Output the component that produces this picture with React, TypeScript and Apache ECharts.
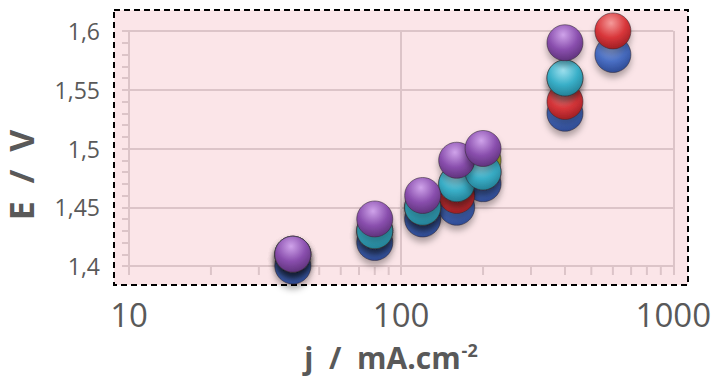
import React, { useEffect, useRef } from "react";
import * as echarts from "echarts";

// ---- data ----
const xValues = [40, 80, 120, 160, 200, 400, 600];
const blueValues = [1.40, 1.42, 1.44, 1.45, 1.47, 1.53, 1.58];
const redValues = [1.41, 1.43, 1.45, 1.46, 1.48, 1.54, 1.60];
const greenValues = [1.41, 1.43, 1.45, 1.47, 1.49, 1.56, null];
const cyanValues = [1.41, 1.43, 1.45, 1.47, 1.48, 1.56, null];
const purpleValues = [1.41, 1.44, 1.46, 1.49, 1.50, 1.59, null];

const xMinorTicks = [20, 30, 40, 50, 60, 70, 80, 90, 200, 300, 400, 500, 600, 700, 800, 900];
const yTickMin = 1.4;
const yTickMax = 1.6;
const yTickStep = 0.05;

const seriesDefs = [
  { name: "S1", values: blueValues, light: "#9db4ee", base: "#4a6fc4", dark: "#2b4790" },
  { name: "S2", values: redValues, light: "#f59a9a", base: "#d8363a", dark: "#9a1d22" },
  { name: "S3", values: greenValues, light: "#e6ee8a", base: "#b7c234", dark: "#7d8620" },
  { name: "S4", values: cyanValues, light: "#a0e2f0", base: "#39afc8", dark: "#237d92" },
  { name: "S5", values: purpleValues, light: "#cfa3ea", base: "#8a4fae", dark: "#5c3078" },
];

const GRID_COLOR = "#dcc4c8";
const TEXT_COLOR = "#595959";
const FONT = "'Open Sans', 'Liberation Sans', sans-serif";

export default function App() {
  const ref = useRef<HTMLDivElement>(null);

  useEffect(() => {
    if (!ref.current) return;
    const chart = echarts.init(ref.current, null, { renderer: "svg" });

    const scatterSeries = seriesDefs.map((s, si) => ({
      type: "scatter",
      name: s.name,
      z: 3 + si,
      symbolSize: 36,
      data: xValues
        .map((x, i) => (s.values[i] == null ? null : [x, s.values[i]]))
        .filter((d) => d !== null),
      itemStyle: {
        color: new echarts.graphic.RadialGradient(0.45, 0.28, 0.75, [
          { offset: 0, color: s.light },
          { offset: 0.55, color: s.base },
          { offset: 1, color: s.dark },
        ]),
        borderColor: "rgba(50,40,50,0.55)",
        borderWidth: 1,
        shadowBlur: 6,
        shadowOffsetY: 5,
        shadowColor: "rgba(0,0,0,0.3)",
        opacity: 1,
      },
      emphasis: { disabled: true },
    }));

    const option: any = {
      animation: false,
      backgroundColor: "#ffffff",
      grid: { left: 129, right: 40, top: 31, bottom: 117 },
      graphic: [
        {
          type: "rect",
          z: -10,
          silent: true,
          shape: { x: 114, y: 10, width: 574, height: 275 },
          style: { fill: "#fbe5e8", stroke: "#000", lineWidth: 2, lineDash: [6, 4] },
        },
        {
          type: "text",
          x: 21,
          y: 175,
          rotation: Math.PI / 2,
          style: {
            text: "E  /  V",
            font: `bold 34px ${FONT}`,
            fill: TEXT_COLOR,
            align: "center",
            verticalAlign: "middle",
          },
        },
        {
          type: "text",
          x: 391,
          y: 357,
          style: {
            text: "{a|j  /  mA.cm}{b|-2}",
            align: "center",
            verticalAlign: "middle",
            rich: {
              a: { fontSize: 30, fontWeight: "bold", fontFamily: FONT, fill: TEXT_COLOR, color: TEXT_COLOR },
              b: {
                fontSize: 18,
                fontWeight: "bold",
                fontFamily: FONT,
                fill: TEXT_COLOR,
                color: TEXT_COLOR,
                padding: [0, 0, 15, 1],
              },
            },
          },
        },
      ],
      xAxis: {
        type: "log",
        logBase: 10,
        min: 10,
        max: 1000,
        axisLine: { show: true, lineStyle: { color: GRID_COLOR, width: 2 } },
        axisTick: { show: true, length: 9, lineStyle: { color: GRID_COLOR, width: 2 } },
        splitLine: { show: true, lineStyle: { color: GRID_COLOR, width: 2 } },
        axisLabel: {
          fontSize: 33,
          fontFamily: FONT,
          color: TEXT_COLOR,
          margin: 32,
          formatter: (v: number) => String(Math.round(v)),
        },
      },
      yAxis: {
        type: "value",
        min: yTickMin,
        max: yTickMax,
        interval: yTickStep,
        axisLine: { show: true, lineStyle: { color: GRID_COLOR, width: 2 } },
        axisTick: { show: true, length: 7, lineStyle: { color: GRID_COLOR, width: 2 } },
        minorTick: { show: true, splitNumber: 5, length: 7, lineStyle: { color: GRID_COLOR, width: 2 } },
        splitLine: { show: true, lineStyle: { color: GRID_COLOR, width: 2 } },
        axisLabel: {
          fontSize: 23,
          fontFamily: FONT,
          color: TEXT_COLOR,
          margin: 29,
          formatter: (v: number) => String(Number(v.toFixed(2))).replace(".", ","),
        },
      },
      series: [
        {
          type: "custom",
          silent: true,
          z: 1,
          clip: false,
          data: xMinorTicks.map((v) => [v, yTickMin]),
          renderItem: (params: any, api: any) => {
            const p = api.coord([api.value(0), api.value(1)]);
            return {
              type: "line",
              shape: { x1: p[0], y1: p[1], x2: p[0], y2: p[1] + 9 },
              style: { stroke: GRID_COLOR, lineWidth: 2 },
            };
          },
        },
        ...scatterSeries,
      ],
    };

    chart.setOption(option);
    return () => chart.dispose();
  }, []);

  return (
    <div
      ref={ref}
      style={{ position: "fixed", left: 0, top: 0, width: 714, height: 383 }}
    />
  );
}
